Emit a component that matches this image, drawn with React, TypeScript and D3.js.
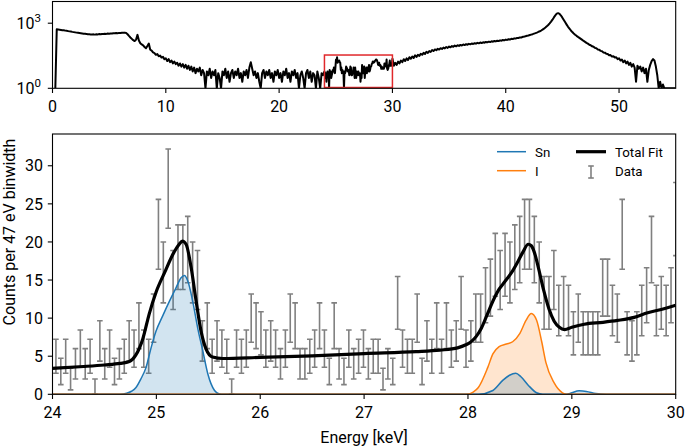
import React from 'react';
import * as d3 from 'd3';

const W = 685;
const H = 446;

// ---------- Overview spectrum (counts, sampled every 0.125 keV), split by region ----------
const overviewStep = 0.125;
const lowStart = 0.25;
const lowCounts = [
  1, 520, 510, 500, 490, 478, 470, 455, 445, 432, 420, 410, 398, 388, 378, 368, 360, 352, 345, 338, 330, 325, 318, 312, 308,
  302, 300, 306, 298, 310, 305, 315, 310, 320, 315, 325, 322, 332, 328, 338, 335, 345, 342, 352, 348, 358, 355, 365, 362, 368, 355,
];
const dropStart = 6.625;
const dropCounts = [
  310, 260, 220, 190, 165, 150, 175, 290, 160, 120, 105, 95, 80, 70, 90, 115, 60, 55, 45, 42, 35, 38, 30, 32, 26, 28, 22, 24,
];
const flatStart = 10.125;
const flatCounts = [
  18, 22, 16, 19, 14, 17, 13, 15, 11, 14, 10, 13, 9, 12, 8, 11, 7, 10, 6, 9, 5, 8, 6, 9, 4, 7, 5, 1, 6, 4, 8, 3, 6, 4, 7, 1,
  5, 3, 1, 6, 4, 8, 3, 6, 2, 5, 7, 3, 6, 4, 8, 3, 5, 2, 6, 4, 7, 3, 9, 16, 8, 4, 6, 3, 5, 2, 1, 5, 7, 3, 6, 4, 7, 3, 5, 2,
  6, 4, 7, 3, 5, 2, 6, 4, 8, 3, 5, 2, 6, 4, 7, 3, 5, 1, 4, 6, 3, 1, 5, 7, 3, 6, 2, 5, 4, 1, 6, 3, 1, 5, 4, 6,
];
const riseStart = 30.125;
const riseCounts = [
  11, 15, 12, 17, 14, 19, 16, 22, 18, 24, 20, 27, 23, 29, 25, 33, 28, 35, 31, 39, 35, 43, 38, 48, 43, 52, 47, 58, 52, 62, 57, 66,
  61, 70, 65, 75, 69, 80, 73, 84, 78, 88, 82, 93, 86, 96, 90, 100, 94, 104, 98, 108, 102, 112, 106, 116, 110, 120, 114, 124, 118, 128,
  122, 132, 126, 137, 131, 141, 135, 146, 140, 151, 145, 156, 150, 162, 156, 168, 162, 175, 170, 182, 178, 190, 186, 200, 196, 210,
  208, 222, 220, 236, 240, 252, 262, 272, 285, 298, 312, 330, 348, 370, 395, 425, 460, 505, 560, 630, 720, 830, 980, 1180,
];
const peakStart = 44.125;
const peakCounts = [
  1450, 1850, 2300, 2750, 2900, 2700, 2250, 1800, 1400, 1100, 860, 680, 560, 460, 390, 335, 295, 262, 235, 212, 190, 170, 152, 138,
  124, 114, 102, 96, 86, 82, 73, 70, 62, 60, 53, 51, 45, 44, 39, 38, 33, 34, 29, 30, 26, 27, 22, 24, 19, 21, 16, 19, 14, 17,
  12, 15, 10, 13, 9, 2, 11, 8, 10, 6, 9, 5, 8, 2, 7, 12, 18, 22, 19, 10, 4, 1, 2, 1, 1.5, 1, 1, 1, 1, 1, 1, 1, 1, 1,
];

// ---------- Zoomed data: counts per 47 eV bin (24-30 keV) ----------
const binStart = 24.033;
const binWidth = 0.047;
const binCounts = [
  5, 3, 5, 2, 4, 6, 4, 5, 1, 7, 4, 6, 3, 4, 5, 7, 6, 9, 6, 5, 10, 21, 16, 27, 15, 18, 18, 19, 16, 15, 7, 9, 5, 7, 6, 5, 1, 6, 5, 6, 10, 9,
  8, 6, 7, 6, 4, 6, 10, 9, 4, 4, 5, 6, 9, 6, 3, 9, 4, 3, 6, 4, 5, 6, 4, 5, 5, 2, 4, 3, 12, 6, 5, 5, 10, 3, 7, 5, 9, 5, 9, 6, 7, 12, 6,
  7, 10, 10, 13, 14, 17, 15, 17, 16, 18, 19, 21, 21, 19, 16, 12, 12, 15, 11, 12, 11, 8, 10, 8, 8, 8, 8, 14, 14, 11, 10, 21, 8, 7, 8, 11, 13, 19, 11, 12, 11, 13, 23,
];

// ---------- Fit components ----------
const snEnergy = [24.0, 24.65, 24.714, 24.76, 24.804, 24.85, 24.9, 24.949, 24.997, 25.061, 25.125, 25.19, 25.238, 25.27, 25.302, 25.35, 25.398, 25.447, 25.495, 25.56, 25.607, 25.65, 28.1, 28.24, 28.34, 28.4, 28.46, 28.51, 28.58, 28.66, 28.72, 28.95, 29.0, 29.07, 29.14, 29.23, 29.33, 30.0];
const snValue = [0, 0, 0.13, 0.4, 0.9, 2.0, 3.5, 6.1, 8.3, 10.3, 12.2, 14.0, 15.3, 15.6, 14.9, 12.2, 8.7, 5.7, 2.7, 0.5, 0.05, 0, 0, 0.5, 1.9, 2.5, 2.75, 2.3, 1.2, 0.2, 0, 0, 0.2, 0.45, 0.38, 0.1, 0, 0];

const iEnergy = [24.0, 27.98, 28.05, 28.1, 28.19, 28.24, 28.3, 28.37, 28.43, 28.5, 28.56, 28.61, 28.66, 28.71, 28.75, 28.83, 28.91, 28.95, 30.0];
const iValue = [0, 0, 0.3, 0.9, 3.5, 5.3, 6.25, 6.6, 6.9, 8.0, 9.75, 10.6, 9.75, 6.9, 4.2, 1.5, 0.2, 0, 0];

const fitEnergy = [24.0, 24.3, 24.5, 24.65, 24.74, 24.8, 24.87, 24.93, 24.997, 25.08, 25.16, 25.22, 25.25, 25.286, 25.334, 25.382, 25.43, 25.48, 25.54, 25.64, 26.0, 26.5, 27.0, 27.5, 27.73, 27.9, 27.98, 28.03, 28.08, 28.13, 28.18, 28.26, 28.3, 28.35, 28.43, 28.48, 28.53, 28.58, 28.61, 28.64, 28.68, 28.73, 28.78, 28.83, 28.88, 28.93, 29.0, 29.12, 29.3, 29.44, 29.6, 29.73, 29.85, 30.0];
const fitValue = [3.4, 3.65, 3.85, 4.05, 4.3, 5.1, 7.3, 10.5, 13.4, 16.0, 18.4, 19.7, 20.1, 19.7, 16.7, 12.3, 8.3, 5.9, 4.9, 4.7, 4.85, 5.05, 5.35, 5.6, 5.8, 6.1, 6.5, 6.9, 7.6, 8.7, 10.3, 12.8, 13.8, 14.7, 16.2, 17.4, 18.7, 19.7, 19.5, 18.6, 16.5, 13.6, 11.2, 9.6, 8.8, 8.5, 8.8, 9.2, 9.45, 9.7, 10.1, 10.7, 11.1, 11.7];

// ---------- Ticks / labels ----------
const topXTicks = [0, 10, 20, 30, 40, 50];
const topYExponents = [0, 3];
const botXTicks = [24, 25, 26, 27, 28, 29, 30];
const botYTicks = [0, 5, 10, 15, 20, 25, 30];
const zoomRange = [24, 30];

const FONT = 'Roboto, "DejaVu Sans", sans-serif';
const C_SN = '#1f77b4';
const C_I = '#ff7f0e';
const C_DATA = '#808080';

export default function App() {
  const left = 52.5;
  const right = 675.7;

  // top panel
  const tTop = 1.5;
  const tBot = 88.3;
  const xTop = d3.scaleLinear().domain([0, 55]).range([left, right]);
  const yTop = d3.scaleLog().domain([1, 10000]).range([tBot, tTop]);

  // bottom panel
  const bTop = 134;
  const bBot = 394.3;
  const xB = d3.scaleLinear().domain([24, 30]).range([left, right]);
  const yB = d3.scaleLinear().domain([0, 34.17]).range([bBot, bTop]);

  const seg = (start: number, step: number, vals: number[]) => vals.map((c, i) => [start + i * step, c] as [number, number]);
  const overviewPts: [number, number][] = [
    ...seg(lowStart, overviewStep, lowCounts),
    ...seg(dropStart, overviewStep, dropCounts),
    ...seg(flatStart, overviewStep, flatCounts),
    ...seg(binStart, binWidth, binCounts),
    ...seg(riseStart, overviewStep, riseCounts),
    ...seg(peakStart, overviewStep, peakCounts),
  ];
  const overviewPath = d3.line<[number, number]>().x(d => xTop(d[0])).y(d => yTop(Math.max(d[1], 1)))(overviewPts) || '';

  const mkLine = (E: number[], V: number[]) =>
    d3.line<number>().x((_, i) => xB(E[i])).y(v => yB(v)).curve(d3.curveMonotoneX)(V) || '';
  const mkArea = (E: number[], V: number[]) =>
    d3.area<number>().x((_, i) => xB(E[i])).y0(yB(0)).y1(v => yB(v)).curve(d3.curveMonotoneX)(V) || '';

  const cap = 2.8;
  const bars = binCounts.map((n, k) => {
    const e = binStart + k * binWidth;
    const s = Math.sqrt(n);
    return { x: xB(e), y1: yB(n + s), y0: yB(Math.max(n - s, 0)), n };
  });

  const tickLen = 4.7;

  return (
    <svg width={W} height={H} style={{ position: 'absolute', left: 0, top: 0, background: '#fff' }} fontFamily={FONT}>
      <defs>
        <clipPath id="clipTop"><rect x={left} y={tTop} width={right - left} height={tBot - tTop} /></clipPath>
        <clipPath id="clipBot"><rect x={left} y={bTop} width={right - left} height={bBot - bTop} /></clipPath>
      </defs>
      <rect x={0} y={0} width={W} height={H} fill="#fff" />

      {/* ---------- TOP PANEL ---------- */}
      <g clipPath="url(#clipTop)">
        <path d={overviewPath} fill="none" stroke="#000" strokeWidth={2} strokeLinejoin="round" />
      </g>
      <rect
        x={xTop(zoomRange[0])}
        y={yTop(34.17)}
        width={xTop(zoomRange[1]) - xTop(zoomRange[0])}
        height={yTop(1) - yTop(34.17) - 0.8}
        fill="none"
        stroke="#e0282b"
        strokeWidth={1.5}
      />
      <rect x={left} y={tTop} width={right - left} height={tBot - tTop} fill="none" stroke="#000" strokeWidth={1.1} />
      {topXTicks.map(t => (
        <g key={'tx' + t}>
          <line x1={xTop(t)} x2={xTop(t)} y1={tBot} y2={tBot + tickLen} stroke="#000" strokeWidth={1.1} />
          <text x={xTop(t)} y={112} fontSize={16} textAnchor="middle" fill="#000">{t}</text>
        </g>
      ))}
      {topYExponents.map(p => (
        <g key={'ty' + p}>
          <line x1={left - tickLen} x2={left} y1={yTop(Math.pow(10, p))} y2={yTop(Math.pow(10, p))} stroke="#000" strokeWidth={1.1} />
          <text x={41} y={yTop(Math.pow(10, p)) + 6} fontSize={16} textAnchor="end" fill="#000">
            10<tspan fontSize={11.5} dy={-7}>{p}</tspan>
          </text>
        </g>
      ))}

      {/* ---------- BOTTOM PANEL ---------- */}
      <g clipPath="url(#clipBot)">
        {bars.filter(b => b.n > 0).map((b, i) => (
          <g key={'b' + i} stroke={C_DATA} strokeWidth={1.6}>
            <line x1={b.x} x2={b.x} y1={b.y0} y2={b.y1} />
            <line x1={b.x - cap} x2={b.x + cap} y1={b.y0} y2={b.y0} />
            <line x1={b.x - cap} x2={b.x + cap} y1={b.y1} y2={b.y1} />
          </g>
        ))}
        <path d={mkArea(iEnergy, iValue)} fill={C_I} fillOpacity={0.2} />
        <path d={mkArea(snEnergy, snValue)} fill={C_SN} fillOpacity={0.2} />
        <path d={mkLine(snEnergy, snValue)} fill="none" stroke={C_SN} strokeWidth={1.5} />
        <path d={mkLine(iEnergy, iValue)} fill="none" stroke={C_I} strokeWidth={1.5} />
        <path d={mkLine(fitEnergy, fitValue)} fill="none" stroke="#000" strokeWidth={3.2} strokeLinejoin="round" />
      </g>
      <rect x={left} y={bTop} width={right - left} height={bBot - bTop} fill="none" stroke="#000" strokeWidth={1.1} />
      {botXTicks.map(t => (
        <g key={'bx' + t}>
          <line x1={xB(t)} x2={xB(t)} y1={bBot} y2={bBot + tickLen} stroke="#000" strokeWidth={1.1} />
          <text x={xB(t)} y={418} fontSize={16} textAnchor="middle" fill="#000">{t}</text>
        </g>
      ))}
      {botYTicks.map(t => (
        <g key={'by' + t}>
          <line x1={left - tickLen} x2={left} y1={yB(t)} y2={yB(t)} stroke="#000" strokeWidth={1.1} />
          <text x={43} y={yB(t) + 5.7} fontSize={16} textAnchor="end" fill="#000">{t}</text>
        </g>
      ))}
      <text x={(left + right) / 2} y={443} fontSize={16} textAnchor="middle" fill="#000">Energy [keV]</text>
      <text transform={`translate(14.5, 232) rotate(-90)`} fontSize={16} textAnchor="middle" fill="#000">Counts per 47 eV binwidth</text>

      {/* legend */}
      <g fontSize={13.3} fill="#000">
        <line x1={497} x2={526} y1={151.7} y2={151.7} stroke={C_SN} strokeWidth={1.5} />
        <text x={535} y={156.7}>Sn</text>
        <line x1={497} x2={526} y1={170.7} y2={170.7} stroke={C_I} strokeWidth={1.5} />
        <text x={535} y={176}>I</text>
        <line x1={576} x2={606} y1={151.7} y2={151.7} stroke="#000" strokeWidth={3.2} />
        <text x={615} y={156.7}>Total Fit</text>
        <g stroke={C_DATA} strokeWidth={1.6}>
          <line x1={591} x2={591} y1={166} y2={178} />
          <line x1={588.2} x2={593.8} y1={166} y2={166} />
          <line x1={588.2} x2={593.8} y1={178} y2={178} />
        </g>
        <text x={615} y={176}>Data</text>
      </g>
    </svg>
  );
}
